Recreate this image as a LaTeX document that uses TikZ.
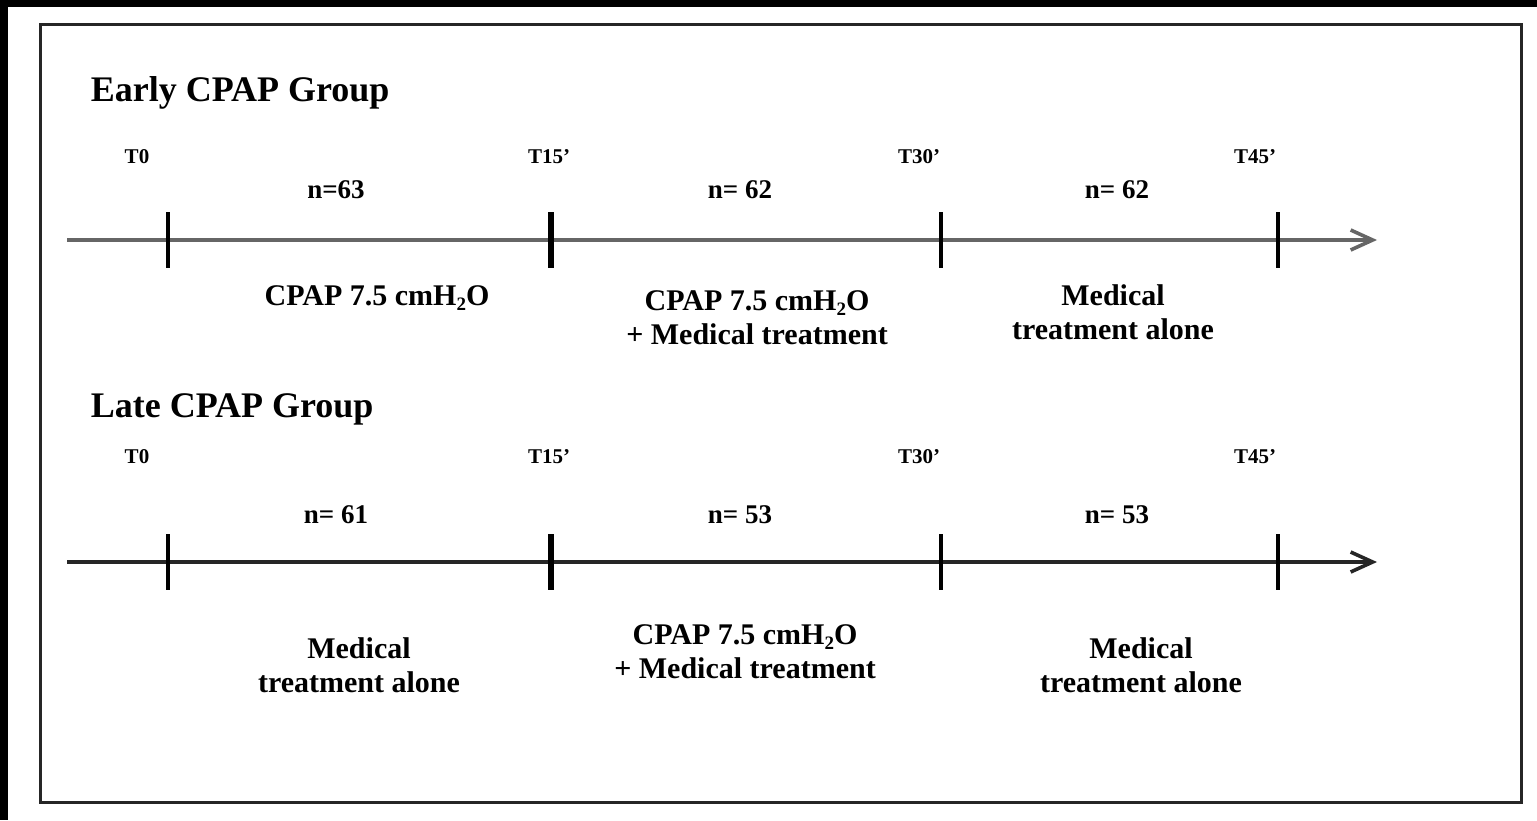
\documentclass[tikz,border=0pt]{standalone}
\usepackage{fontspec}
\setmainfont{Liberation Serif}
\usetikzlibrary{positioning,arrows.meta}
\newcommand{\subtwo}{\raisebox{-0.35ex}{\fontsize{9.5}{10}\selectfont 2}}

\begin{document}
\begin{tikzpicture}[x=0.5pt, y=-0.5pt, thick]

        % Styles
        \tikzstyle{title} = [anchor=base west, inner sep=0pt, font=\fontsize{18}{20}\selectfont\bfseries]
        \tikzstyle{time} = [inner sep=0pt, font=\fontsize{10.5}{12}\selectfont\bfseries]
        \tikzstyle{count} = [inner sep=0pt, font=\fontsize{13.5}{15}\selectfont\bfseries]
        \tikzstyle{phase} = [inner sep=0pt, align=center, font=\fontsize{15}{17}\selectfont\bfseries]
        \tikzstyle{tickmark} = [line width=2pt]
        \tikzstyle{timeline} = [line width=1.8pt, -{Straight Barb[length=11pt, width=10pt]}]

        \useasboundingbox (0,0) rectangle (1537,820);
        \fill[black] (0,0) rectangle (1537,7);
        \fill[black] (0,0) rectangle (8,820);
        \draw[line width=1.5pt, black!85] (40,24) rectangle (1521,802);

        % Early CPAP group
        \node [title] (early) at (90,101) {Early CPAP Group};
        \coordinate (es) at (67,240);
        \coordinate (ee) at (1377,240);
        \coordinate (e0) at (168,240);
        \coordinate (e15) at (551,240);
        \coordinate (e30) at (941,240);
        \coordinate (e45) at (1278,240);
        \node [time] (et0) at (137,157) {T0};
        \node [time] (et15) at (549,157) {T15'};
        \node [time] (et30) at (919,157) {T30'};
        \node [time] (et45) at (1255,157) {T45'};
        \node [count] (en1) at (336,190) {n=63};
        \node [count] (en2) at (740,190) {n= 62};
        \node [count] (en3) at (1117,190) {n= 62};
        \node [phase] (ep1) at (377,298) {CPAP 7.5 cmH\subtwo O};
        \node [phase] (ep2) at (757,318) {CPAP 7.5 cmH\subtwo O\\ + Medical treatment};
        \node [phase] (ep3) at (1113,312) {Medical\\ treatment alone};

        \draw[timeline, black!60] (es) -- (ee);
        \draw[tickmark] ([yshift=14pt]e0) -- ([yshift=-14pt]e0);
        \draw[tickmark, line width=2.6pt] ([yshift=14pt]e15) -- ([yshift=-14pt]e15);
        \draw[tickmark] ([yshift=14pt]e30) -- ([yshift=-14pt]e30);
        \draw[tickmark] ([yshift=14pt]e45) -- ([yshift=-14pt]e45);

        % Late CPAP group
        \node [title] (late) at (90,417) {Late CPAP Group};
        \coordinate (ls) at (67,562);
        \coordinate (le) at (1377,562);
        \coordinate (l0) at (168,562);
        \coordinate (l15) at (551,562);
        \coordinate (l30) at (941,562);
        \coordinate (l45) at (1278,562);
        \node [time] (lt0) at (137,457) {T0};
        \node [time] (lt15) at (549,457) {T15'};
        \node [time] (lt30) at (919,457) {T30'};
        \node [time] (lt45) at (1255,457) {T45'};
        \node [count] (ln1) at (336,515) {n= 61};
        \node [count] (ln2) at (740,515) {n= 53};
        \node [count] (ln3) at (1117,515) {n= 53};
        \node [phase] (lp1) at (359,665) {Medical\\ treatment alone};
        \node [phase] (lp2) at (745,652) {CPAP 7.5 cmH\subtwo O\\ + Medical treatment};
        \node [phase] (lp3) at (1141,665) {Medical\\ treatment alone};

        \draw[timeline, black!85] (ls) -- (le);
        \draw[tickmark] ([yshift=14pt]l0) -- ([yshift=-14pt]l0);
        \draw[tickmark, line width=2.6pt] ([yshift=14pt]l15) -- ([yshift=-14pt]l15);
        \draw[tickmark] ([yshift=14pt]l30) -- ([yshift=-14pt]l30);
        \draw[tickmark] ([yshift=14pt]l45) -- ([yshift=-14pt]l45);

\end{tikzpicture}
\end{document}
